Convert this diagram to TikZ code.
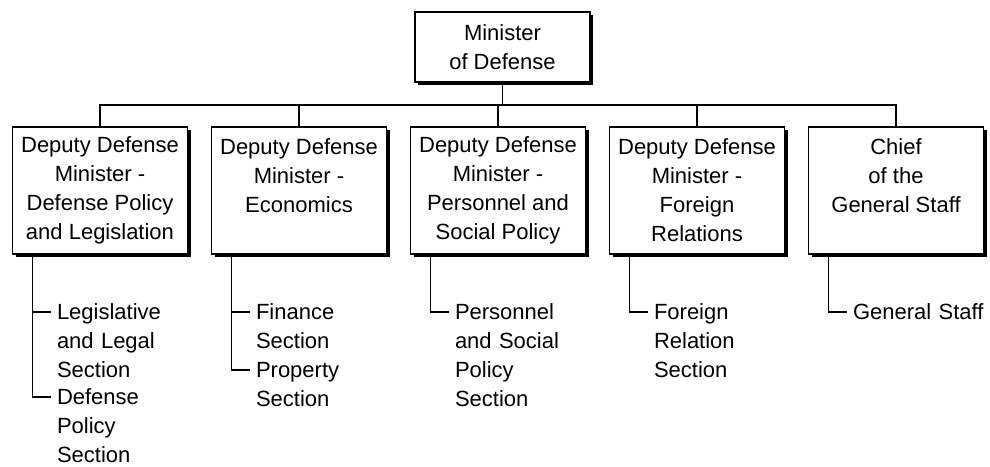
\documentclass[tikz,border=0pt]{standalone}
\usepackage{fontspec}
\setmainfont{Liberation Sans}
\usetikzlibrary{shadows}
\tikzset{
  office/.style={draw, line width=0.9pt, fill=white, align=center, inner sep=0pt,
    minimum width=87.5pt,
    drop shadow={shadow xshift=1.5pt, shadow yshift=-1.5pt, opacity=1, fill=black}},
  deputy/.style={office, minimum height=63.5pt},
  section/.style={anchor=base west, align=left, text width=70pt, inner sep=0pt},
  link/.style={line width=0.8pt}
}
\begin{document}
\begin{tikzpicture}[x=0.5pt, y=-0.5pt, font=\fontsize{11}{14.5}\selectfont]
  \useasboundingbox (0,0) rectangle (990,466);
  % minister and deputies
  \node[office, minimum height=35pt] (minister) at (502.5,47) {Minister\\of Defense};
  \node[deputy] (policy) at (100,190.5) {Deputy Defense\\Minister -\\Defense Policy\\and Legislation};
  \node[deputy] (economics) at (299,190.5) {Deputy Defense\\Minister -\\Economics\\~};
  \node[deputy] (personnel) at (498,190.5) {Deputy Defense\\Minister -\\Personnel and\\Social Policy};
  \node[deputy] (foreign) at (697,190.5) {Deputy Defense\\Minister -\\Foreign\\Relations};
  \node[deputy] (chief) at (896,190.5) {Chief\\of the\\General Staff\\~};
  \coordinate (bus) at (500,105);
  \draw[link] (minister.south) -- (minister.south |- bus);
  \draw[link] (policy.north) |- (bus) -| (chief.north);
  \foreach \d in {economics,personnel,foreign}
    \draw[link] (\d.north) -- (\d.north |- bus);
  % sections
  \coordinate (pv) at ([xshift=10.5pt]policy.south west);
  \coordinate (ev) at ([xshift=10.5pt]economics.south west);
  \coordinate (sv) at ([xshift=10.5pt]personnel.south west);
  \coordinate (fv) at ([xshift=10.5pt]foreign.south west);
  \coordinate (gv) at ([xshift=10.5pt]chief.south west);
  \node[section] (legal) at ([xshift=12pt,yshift=-32.5pt]pv) {Legislative\\and Legal\\Section};
  \node[section] (defpol) at ([xshift=12pt,yshift=-75pt]pv) {Defense\\Policy\\Section};
  \node[section] (finance) at ([xshift=12pt,yshift=-32.5pt]ev) {Finance\\Section};
  \node[section] (property) at ([xshift=12pt,yshift=-61.5pt]ev) {Property\\Section};
  \node[section] (social) at ([xshift=12pt,yshift=-32.5pt]sv) {Personnel\\and Social\\Policy\\Section};
  \node[section] (relation) at ([xshift=12pt,yshift=-32.5pt]fv) {Foreign\\Relation\\Section};
  \node[section] (staff) at ([xshift=12pt,yshift=-32.5pt]gv) {General Staff};
  \draw[link] (pv) |- ([xshift=-3pt,yshift=4pt]defpol.base west);
  \draw[link] ([xshift=-12pt,yshift=4pt]legal.base west) -- ([xshift=-3pt,yshift=4pt]legal.base west);
  \draw[link] (ev) |- ([xshift=-3pt,yshift=4pt]property.base west);
  \draw[link] ([xshift=-12pt,yshift=4pt]finance.base west) -- ([xshift=-3pt,yshift=4pt]finance.base west);
  \draw[link] (sv) |- ([xshift=-3pt,yshift=4pt]social.base west);
  \draw[link] (fv) |- ([xshift=-3pt,yshift=4pt]relation.base west);
  \draw[link] (gv) |- ([xshift=-3pt,yshift=4pt]staff.base west);
\end{tikzpicture}
\end{document}
